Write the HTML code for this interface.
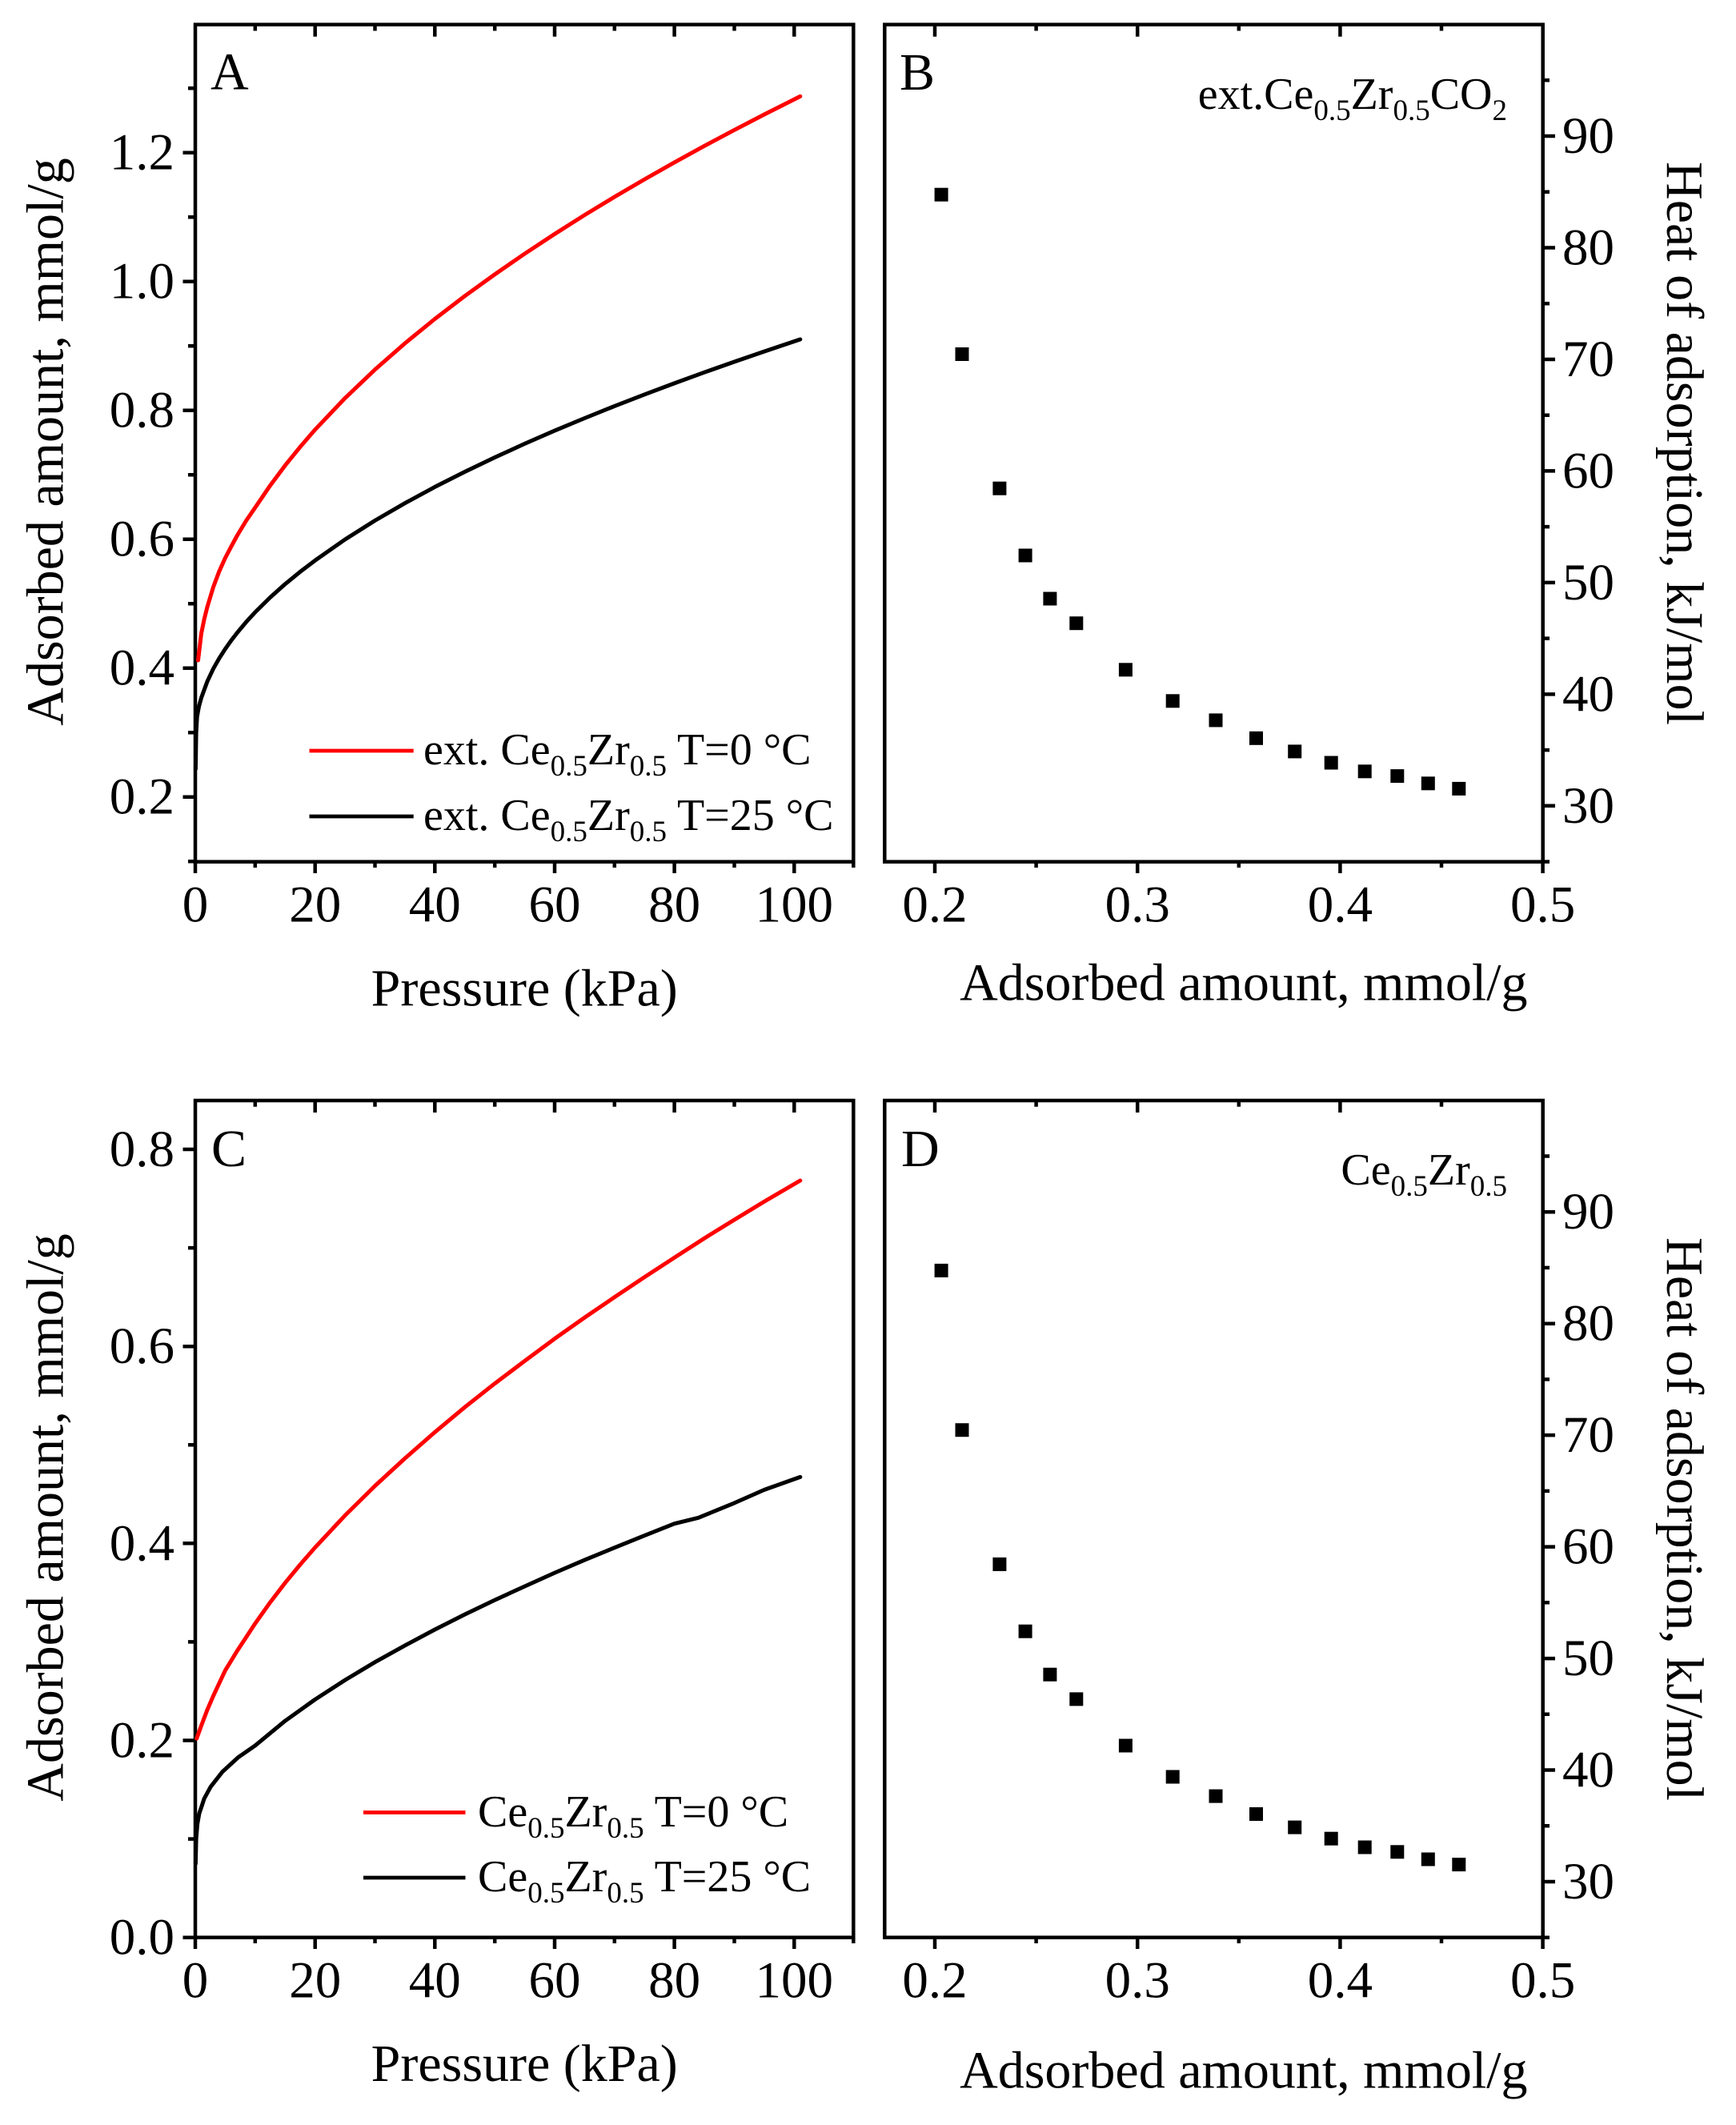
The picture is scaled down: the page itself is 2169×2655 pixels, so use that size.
<!DOCTYPE html>
<html>
<head>
<meta charset="utf-8">
<style>
html,body{margin:0;padding:0;background:#fff;}
svg{display:block;}
text{font-family:"Liberation Serif","Times New Roman",serif;fill:#000;}
</style>
</head>
<body>
<svg width="2169" height="2655" viewBox="0 0 2169 2655" xmlns="http://www.w3.org/2000/svg">
<rect x="0" y="0" width="2169" height="2655" fill="#fff"/>

<!-- ================= PANEL A ================= -->
<g stroke="#000" stroke-width="4.5" fill="none" stroke-linecap="butt">
  <rect x="244" y="30.7" width="822.3" height="1046"/>
  <path d="M228.5 995.7H244 M228.5 834.7H244 M228.5 673.7H244 M228.5 512.7H244 M228.5 351.7H244 M228.5 190.7H244"/>
  <path d="M235 1076.2H244 M235 915.2H244 M235 754.2H244 M235 593.2H244 M235 432.2H244 M235 271.2H244 M235 110.2H244"/>
  <path d="M244 1076.7V1091 M393.7 1076.7V1091 M543.3 1076.7V1091 M693 1076.7V1091 M842.6 1076.7V1091 M992.3 1076.7V1091"/>
  <path d="M318.8 1076.7V1084 M468.5 1076.7V1084 M618.2 1076.7V1084 M767.8 1076.7V1084 M917.5 1076.7V1084 M1066.3 1076.7V1084"/>
  <path d="M393.7 30.7V45.7 M543.3 30.7V45.7 M693 30.7V45.7 M842.6 30.7V45.7 M992.3 30.7V45.7"/>
  <path d="M318.8 30.7V38.5 M468.5 30.7V38.5 M618.2 30.7V38.5 M767.8 30.7V38.5 M917.5 30.7V38.5"/>
</g>
<g font-size="65" text-anchor="end">
  <text x="218" y="1016.7">0.2</text>
  <text x="218" y="855.7">0.4</text>
  <text x="218" y="694.7">0.6</text>
  <text x="218" y="533.7">0.8</text>
  <text x="218" y="372.7">1.0</text>
  <text x="218" y="211.7">1.2</text>
</g>
<g font-size="65" text-anchor="middle">
  <text x="244" y="1151.5">0</text>
  <text x="393.7" y="1151.5">20</text>
  <text x="543.3" y="1151.5">40</text>
  <text x="693" y="1151.5">60</text>
  <text x="842.6" y="1151.5">80</text>
  <text x="992.3" y="1151.5">100</text>
</g>
<text x="655.2" y="1256.5" font-size="66" text-anchor="middle">Pressure (kPa)</text>
<text transform="translate(78.5,552) rotate(-90)" font-size="66" text-anchor="middle">Adsorbed amount, mmol/g</text>
<text x="263" y="111.7" font-size="66">A</text>

<polyline fill="none" stroke="#ff0000" stroke-width="5" stroke-linejoin="round" stroke-linecap="round"
 points="247.5,824.9 251.5,791.5 255.2,773.5 259.0,758.3 266.4,733.8 273.9,713.8 281.4,697.1 288.9,682.8 296.4,669.0 307.6,650.5 318.8,634.2 337.5,606.7 356.2,581.6 375.0,558.4 393.7,536.8 431.1,497.4 468.5,461.8 505.9,429.0 543.3,398.5 580.7,369.9 618.2,342.8 655.6,317.0 693.0,292.4 730.4,268.7 767.8,246.0 805.2,224.1 842.6,202.9 880.1,182.3 917.5,162.4 954.9,143.0 999.8,120.4"/>
<polyline fill="none" stroke="#000" stroke-width="5" stroke-linejoin="round" stroke-linecap="round"
 points="244.4,960.8 245.1,915.8 246.2,895.7 248.5,882.8 251.5,871.9 259.0,851.4 266.4,835.7 273.9,822.5 281.4,810.8 288.9,800.2 296.4,790.5 307.6,777.1 318.8,764.9 337.5,746.5 356.2,729.8 375.0,714.4 393.7,700.2 431.1,674.0 468.5,650.4 505.9,628.7 543.3,608.4 580.7,589.5 618.2,571.5 655.6,554.4 693.0,538.1 730.4,522.5 767.8,507.4 805.2,492.9 842.6,478.9 880.1,465.2 917.5,452.0 954.9,439.1 999.8,424.0"/>

<path d="M386.5 938H516.7" stroke="#ff0000" stroke-width="4.7"/>
<path d="M386.5 1020H516.7" stroke="#000" stroke-width="4.7"/>
<text x="529" y="955" font-size="56">ext. Ce<tspan font-size="37" dy="14">0.5</tspan><tspan dy="-14">Zr</tspan><tspan font-size="37" dy="14">0.5</tspan><tspan dy="-14"> T=0 °C</tspan></text>
<text x="529" y="1037" font-size="56">ext. Ce<tspan font-size="37" dy="14">0.5</tspan><tspan dy="-14">Zr</tspan><tspan font-size="37" dy="14">0.5</tspan><tspan dy="-14"> T=25 °C</tspan></text>

<!-- ================= PANEL B ================= -->
<g stroke="#000" stroke-width="4.5" fill="none">
  <rect x="1105.3" y="30.7" width="822.4" height="1046"/>
  <path d="M1168 1076.7V1091 M1421.2 1076.7V1091 M1674.4 1076.7V1091 M1927.6 1076.7V1091"/>
  <path d="M1294.6 1076.7V1084 M1547.8 1076.7V1084 M1801 1076.7V1084"/>
  <path d="M1168 30.7V45.7 M1421.2 30.7V45.7 M1674.4 30.7V45.7"/>
  <path d="M1294.6 30.7V38.5 M1547.8 30.7V38.5 M1801 30.7V38.5"/>
  <path d="M1927.7 170H1943 M1927.7 309.5H1943 M1927.7 449H1943 M1927.7 588.4H1943 M1927.7 727.9H1943 M1927.7 867.4H1943 M1927.7 1006.8H1943"/>
  <path d="M1927.7 100.3H1936 M1927.7 239.7H1936 M1927.7 379.2H1936 M1927.7 518.7H1936 M1927.7 658.1H1936 M1927.7 797.6H1936 M1927.7 937.1H1936 M1927.7 1076.6H1936"/>
</g>
<g font-size="65" text-anchor="middle">
  <text x="1168" y="1151.5">0.2</text>
  <text x="1421.2" y="1151.5">0.3</text>
  <text x="1674.4" y="1151.5">0.4</text>
  <text x="1927.6" y="1151.5">0.5</text>
</g>
<g font-size="65" text-anchor="start">
  <text x="1952" y="191">90</text>
  <text x="1952" y="330.5">80</text>
  <text x="1952" y="470">70</text>
  <text x="1952" y="609.4">60</text>
  <text x="1952" y="748.9">50</text>
  <text x="1952" y="888.4">40</text>
  <text x="1952" y="1027.8">30</text>
</g>
<text x="1553.8" y="1249.4" font-size="66" text-anchor="middle">Adsorbed amount, mmol/g</text>
<text transform="translate(2083,554) rotate(90)" font-size="66" text-anchor="middle">Heat of adsorption, kJ/mol</text>
<text x="1124" y="112" font-size="66">B</text>
<text x="1883" y="136" font-size="56" text-anchor="end">ext.Ce<tspan font-size="37" dy="14">0.5</tspan><tspan dy="-14">Zr</tspan><tspan font-size="37" dy="14">0.5</tspan><tspan dy="-14">CO</tspan><tspan font-size="37" dy="14">2</tspan></text>

<g fill="#000">
  <rect x="1167.6" y="234.7" width="17" height="17"/>
  <rect x="1193.5" y="434" width="17" height="17"/>
  <rect x="1240.4" y="601.7" width="17" height="17"/>
  <rect x="1272.6" y="685.5" width="17" height="17"/>
  <rect x="1303.4" y="739.5" width="17" height="17"/>
  <rect x="1336.3" y="770.2" width="17" height="17"/>
  <rect x="1397.9" y="828.3" width="17" height="17"/>
  <rect x="1456.7" y="867.3" width="17" height="17"/>
  <rect x="1510.5" y="891.4" width="17" height="17"/>
  <rect x="1561" y="913.8" width="17" height="17"/>
  <rect x="1609.2" y="930.4" width="17" height="17"/>
  <rect x="1654.7" y="944.5" width="17" height="17"/>
  <rect x="1696.7" y="955.3" width="17" height="17"/>
  <rect x="1737.3" y="961.1" width="17" height="17"/>
  <rect x="1775.8" y="970.3" width="17" height="17"/>
  <rect x="1814.3" y="976.9" width="17" height="17"/>
</g>

<!-- ================= PANEL C ================= -->
<g stroke="#000" stroke-width="4.5" fill="none">
  <rect x="244" y="1375" width="822.3" height="1045.7"/>
  <path d="M228.5 2420.7H244 M228.5 2174.5H244 M228.5 1928.3H244 M228.5 1682.2H244 M228.5 1436H244"/>
  <path d="M235 2297.6H244 M235 2051.4H244 M235 1805.3H244 M235 1559.1H244"/>
  <path d="M244 2420.7V2435 M393.7 2420.7V2435 M543.3 2420.7V2435 M693 2420.7V2435 M842.6 2420.7V2435 M992.3 2420.7V2435"/>
  <path d="M318.8 2420.7V2428 M468.5 2420.7V2428 M618.2 2420.7V2428 M767.8 2420.7V2428 M917.5 2420.7V2428 M1066.3 2420.7V2428"/>
  <path d="M393.7 1375V1390 M543.3 1375V1390 M693 1375V1390 M842.6 1375V1390 M992.3 1375V1390"/>
  <path d="M318.8 1375V1382.7 M468.5 1375V1382.7 M618.2 1375V1382.7 M767.8 1375V1382.7 M917.5 1375V1382.7"/>
</g>
<g font-size="65" text-anchor="end">
  <text x="218" y="2441.7">0.0</text>
  <text x="218" y="2195.5">0.2</text>
  <text x="218" y="1949.3">0.4</text>
  <text x="218" y="1703.2">0.6</text>
  <text x="218" y="1457">0.8</text>
</g>
<g font-size="65" text-anchor="middle">
  <text x="244" y="2495.7">0</text>
  <text x="393.7" y="2495.7">20</text>
  <text x="543.3" y="2495.7">40</text>
  <text x="693" y="2495.7">60</text>
  <text x="842.6" y="2495.7">80</text>
  <text x="992.3" y="2495.7">100</text>
</g>
<text x="655.2" y="2600" font-size="66" text-anchor="middle">Pressure (kPa)</text>
<text transform="translate(78.5,1896) rotate(-90)" font-size="66" text-anchor="middle">Adsorbed amount, mmol/g</text>
<text x="264" y="1457" font-size="66">C</text>

<polyline fill="none" stroke="#ff0000" stroke-width="5" stroke-linejoin="round" stroke-linecap="round"
 points="245.7,2172.1 251.5,2156.1 259.0,2136.3 266.4,2119.1 273.9,2103.1 281.4,2087.1 288.9,2074.8 296.4,2062.5 307.6,2045.5 318.8,2028.4 337.5,2002.1 356.2,1977.7 375.0,1954.9 393.7,1933.4 431.1,1893.4 468.5,1856.5 505.9,1822.1 543.3,1789.4 580.7,1758.2 618.2,1728.6 655.6,1700.4 693.0,1672.6 730.4,1646.2 767.8,1620.7 805.2,1595.7 842.6,1571.3 880.1,1547.1 917.5,1524.0 954.9,1501.3 999.8,1475.0"/>
<polyline fill="none" stroke="#000" stroke-width="5" stroke-linejoin="round" stroke-linecap="round"
 points="244.4,2328.4 245.1,2297.6 246.6,2279.1 248.9,2266.0 255.2,2247.1 263.2,2232.4 277.7,2213.9 297.9,2195.4 318.8,2180.9 356.2,2150.1 393.7,2123.3 431.1,2099.1 468.5,2076.7 505.9,2055.9 543.3,2036.0 580.7,2017.1 618.2,1999.1 655.6,1982.0 693.0,1965.1 730.4,1949.1 767.8,1933.7 805.2,1918.6 842.6,1903.7 872.6,1896.3 917.5,1877.9 954.9,1861.4 999.8,1845.4"/>

<path d="M454 2264.5H581.5" stroke="#ff0000" stroke-width="4.7"/>
<path d="M454 2346H581.5" stroke="#000" stroke-width="4.7"/>
<text x="597" y="2282" font-size="56">Ce<tspan font-size="37" dy="14">0.5</tspan><tspan dy="-14">Zr</tspan><tspan font-size="37" dy="14">0.5</tspan><tspan dy="-14"> T=0 °C</tspan></text>
<text x="597" y="2363" font-size="56">Ce<tspan font-size="37" dy="14">0.5</tspan><tspan dy="-14">Zr</tspan><tspan font-size="37" dy="14">0.5</tspan><tspan dy="-14"> T=25 °C</tspan></text>

<!-- ================= PANEL D ================= -->
<g stroke="#000" stroke-width="4.5" fill="none">
  <rect x="1105.3" y="1375" width="822.4" height="1045.7"/>
  <path d="M1168 2420.7V2435 M1421.2 2420.7V2435 M1674.4 2420.7V2435 M1927.6 2420.7V2435"/>
  <path d="M1294.6 2420.7V2428 M1547.8 2420.7V2428 M1801 2420.7V2428"/>
  <path d="M1168 1375V1390 M1421.2 1375V1390 M1674.4 1375V1390"/>
  <path d="M1294.6 1375V1382.7 M1547.8 1375V1382.7 M1801 1375V1382.7"/>
  <path d="M1927.7 1514.2H1943 M1927.7 1653.7H1943 M1927.7 1793.1H1943 M1927.7 1932.6H1943 M1927.7 2072.1H1943 M1927.7 2211.5H1943 M1927.7 2351H1943"/>
  <path d="M1927.7 1444.5H1936 M1927.7 1583.9H1936 M1927.7 1723.4H1936 M1927.7 1862.9H1936 M1927.7 2002.3H1936 M1927.7 2141.8H1936 M1927.7 2281.3H1936 M1927.7 2420.7H1936"/>
</g>
<g font-size="65" text-anchor="middle">
  <text x="1168" y="2495.7">0.2</text>
  <text x="1421.2" y="2495.7">0.3</text>
  <text x="1674.4" y="2495.7">0.4</text>
  <text x="1927.6" y="2495.7">0.5</text>
</g>
<g font-size="65" text-anchor="start">
  <text x="1952" y="1535.2">90</text>
  <text x="1952" y="1674.7">80</text>
  <text x="1952" y="1814.2">70</text>
  <text x="1952" y="1953.6">60</text>
  <text x="1952" y="2093.1">50</text>
  <text x="1952" y="2232.6">40</text>
  <text x="1952" y="2372">30</text>
</g>
<text x="1553.8" y="2608.3" font-size="66" text-anchor="middle">Adsorbed amount, mmol/g</text>
<text transform="translate(2083,1898) rotate(90)" font-size="66" text-anchor="middle">Heat of adsorption, kJ/mol</text>
<text x="1126" y="1457" font-size="66">D</text>
<text x="1883" y="1480" font-size="56" text-anchor="end">Ce<tspan font-size="37" dy="14">0.5</tspan><tspan dy="-14">Zr</tspan><tspan font-size="37" dy="14">0.5</tspan></text>

<g fill="#000">
  <rect x="1167.6" y="1578.9" width="17" height="17"/>
  <rect x="1193.5" y="1778.2" width="17" height="17"/>
  <rect x="1240.4" y="1945.9" width="17" height="17"/>
  <rect x="1272.6" y="2029.7" width="17" height="17"/>
  <rect x="1303.4" y="2083.7" width="17" height="17"/>
  <rect x="1336.3" y="2114.4" width="17" height="17"/>
  <rect x="1397.9" y="2172.5" width="17" height="17"/>
  <rect x="1456.7" y="2211.5" width="17" height="17"/>
  <rect x="1510.5" y="2235.6" width="17" height="17"/>
  <rect x="1561" y="2258" width="17" height="17"/>
  <rect x="1609.2" y="2274.6" width="17" height="17"/>
  <rect x="1654.7" y="2288.7" width="17" height="17"/>
  <rect x="1696.7" y="2299.5" width="17" height="17"/>
  <rect x="1737.3" y="2305.3" width="17" height="17"/>
  <rect x="1775.8" y="2314.5" width="17" height="17"/>
  <rect x="1814.3" y="2321.1" width="17" height="17"/>
</g>
</svg>
</body>
</html>
